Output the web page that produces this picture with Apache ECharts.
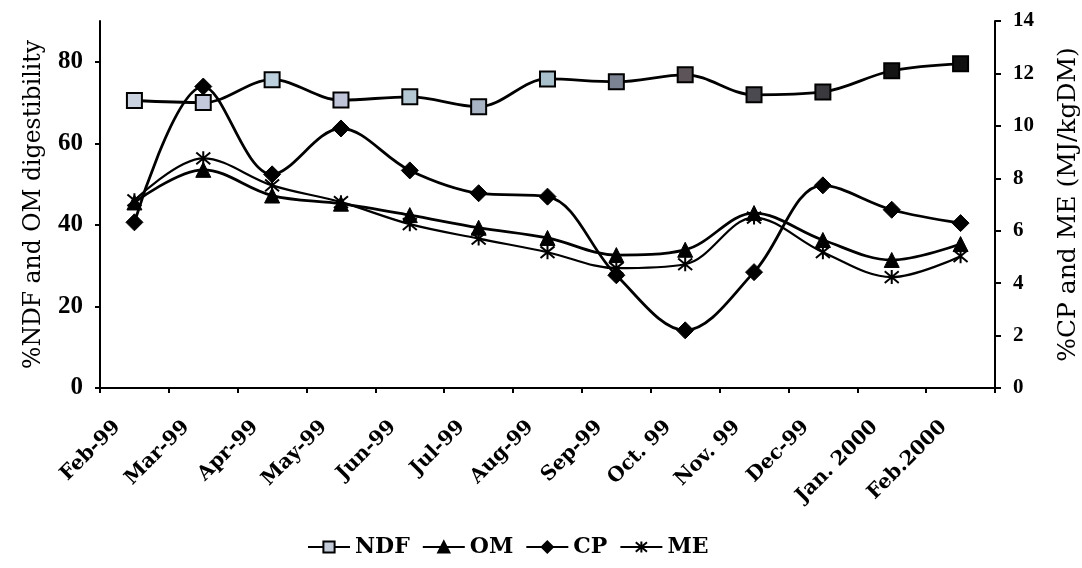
<!DOCTYPE html>
<html>
<head>
<meta charset="utf-8">
<script src="https://cdn.jsdelivr.net/npm/echarts@6/dist/echarts.min.js"></script>
<style>
  html, body { margin: 0; padding: 0; background: #fff; }
  #chart { width: 1082px; height: 568px; }
</style>
</head>
<body>
<div id="chart"></div>
<script>
// Sampling months
const months = ['Feb-99', 'Mar-99', 'Apr-99', 'May-99', 'Jun-99', 'Jul-99', 'Aug-99',
                'Sep-99', 'Oct. 99', 'Nov. 99', 'Dec-99', 'Jan. 2000', 'Feb.2000'];

// Left axis: %NDF and OM digestibility
const ndf = [70.5, 70.0, 75.6, 70.6, 71.4, 69.0, 75.8, 75.1, 76.8, 71.9, 72.6, 77.8, 79.5];
const om  = [45.5, 53.5, 47.2, 45.2, 42.4, 39.3, 36.8, 32.6, 33.9, 42.9, 36.3, 31.4, 35.3];

// Right axis: %CP and ME (MJ/kgDM)
const cp  = [6.32, 11.5, 8.15, 9.9, 8.3, 7.43, 7.3, 4.3, 2.2, 4.42, 7.73, 6.8, 6.29];
const me  = [7.16, 8.76, 7.73, 7.09, 6.25, 5.7, 5.18, 4.57, 4.72, 6.5, 5.18, 4.23, 5.03];

// Tick labels
const leftTicks  = [0, 20, 40, 60, 80];
const rightTicks = [0, 2, 4, 6, 8, 10, 12, 14];

// Square marker fills for the NDF series (print tone darkens toward the end)
const ndfFill = ['#c9d2de', '#c4c8dc', '#bcd0de', '#c0c4d8', '#b4c8d4', '#a8b4c4', '#a8c0cc',
                 '#7c8494', '#5c5458', '#4a4a50', '#3a3a3e', '#141414', '#101010'];

const serif = '"DejaVu Serif", "Liberation Serif", serif';
const numFont = '"Liberation Serif", "DejaVu Serif", serif';
const black = '#000';
const starPath = 'path://M0,0L10,10M10,0L0,10M5,-1L5,11';

const chart = echarts.init(document.getElementById('chart'));

const lineBase = {
  type: 'line',
  smooth: 0.35,
  lineStyle: { color: black, width: 2.8 },
  emphasis: { disabled: true }
};

chart.setOption({
  animation: false,
  backgroundColor: '#fff',
  grid: { left: 100, right: 87, top: 21, bottom: 180, outerBoundsMode: 'none', containLabel: false },
  legend: {
    left: 302,
    top: 531,
    itemWidth: 42,
    itemHeight: 14,
    itemGap: 12,
    textStyle: { fontFamily: serif, fontWeight: 'bold', fontSize: 22, color: black },
    data: ['NDF', 'OM', 'CP', 'ME']
  },
  xAxis: {
    type: 'category',
    data: months,
    boundaryGap: true,
    axisLine: { lineStyle: { color: black, width: 2 } },
    axisTick: { show: true, length: 5, lineStyle: { color: black, width: 2 } },
    axisLabel: {
      interval: 0,
      rotate: 45,
      margin: 19,
      padding: [0, 24, 0, 0],
      fontFamily: serif,
      fontWeight: 'bold',
      fontSize: 20,
      color: black
    },
    splitLine: { show: false }
  },
  yAxis: [
    {
      type: 'value',
      min: 0,
      max: 90,
      interval: 10,
      name: '%NDF and OM digestibility',
      nameLocation: 'middle',
      nameRotate: 90,
      nameGap: 54,
      nameTextStyle: { fontFamily: serif, fontSize: 23.5, color: black },
      axisLine: { show: true, lineStyle: { color: black, width: 2 } },
      axisTick: { show: true, length: 5, customValues: leftTicks, lineStyle: { color: black, width: 2 } },
      axisLabel: { customValues: leftTicks, margin: 17, fontFamily: numFont, fontWeight: 'bold', fontSize: 25, color: black },
      splitLine: { show: false }
    },
    {
      type: 'value',
      position: 'right',
      min: 0,
      max: 14,
      interval: 2,
      name: '%CP and ME (MJ/kgDM)',
      nameLocation: 'middle',
      nameRotate: 90,
      nameGap: 61,
      nameTextStyle: { fontFamily: serif, fontSize: 25, color: black },
      axisLine: { show: true, lineStyle: { color: black, width: 2 } },
      axisTick: { show: true, length: 6, customValues: rightTicks, lineStyle: { color: black, width: 2 } },
      axisLabel: { customValues: rightTicks, margin: 18, fontFamily: numFont, fontWeight: 'bold', fontSize: 21, color: black },
      splitLine: { show: false }
    }
  ],
  series: [
    Object.assign({}, lineBase, {
      name: 'NDF',
      yAxisIndex: 0,
      symbol: 'rect',
      symbolSize: 15,
      itemStyle: { color: '#c3cad8', borderColor: black, borderWidth: 2 },
      data: ndf.map((v, i) => ({ value: v, itemStyle: { color: ndfFill[i] } }))
    }),
    Object.assign({}, lineBase, {
      name: 'OM',
      yAxisIndex: 0,
      symbol: 'triangle',
      symbolSize: 15,
      itemStyle: { color: black, borderColor: black, borderWidth: 1 },
      data: om
    }),
    Object.assign({}, lineBase, {
      name: 'CP',
      yAxisIndex: 1,
      symbol: 'diamond',
      symbolSize: 17,
      itemStyle: { color: black, borderColor: black, borderWidth: 1 },
      data: cp
    }),
    Object.assign({}, lineBase, {
      name: 'ME',
      yAxisIndex: 1,
      symbol: starPath,
      symbolSize: 14,
      lineStyle: { color: black, width: 2.2 },
      itemStyle: { color: 'rgba(0,0,0,0)', borderColor: black, borderWidth: 2 },
      data: me
    })
  ]
});
</script>
</body>
</html>
